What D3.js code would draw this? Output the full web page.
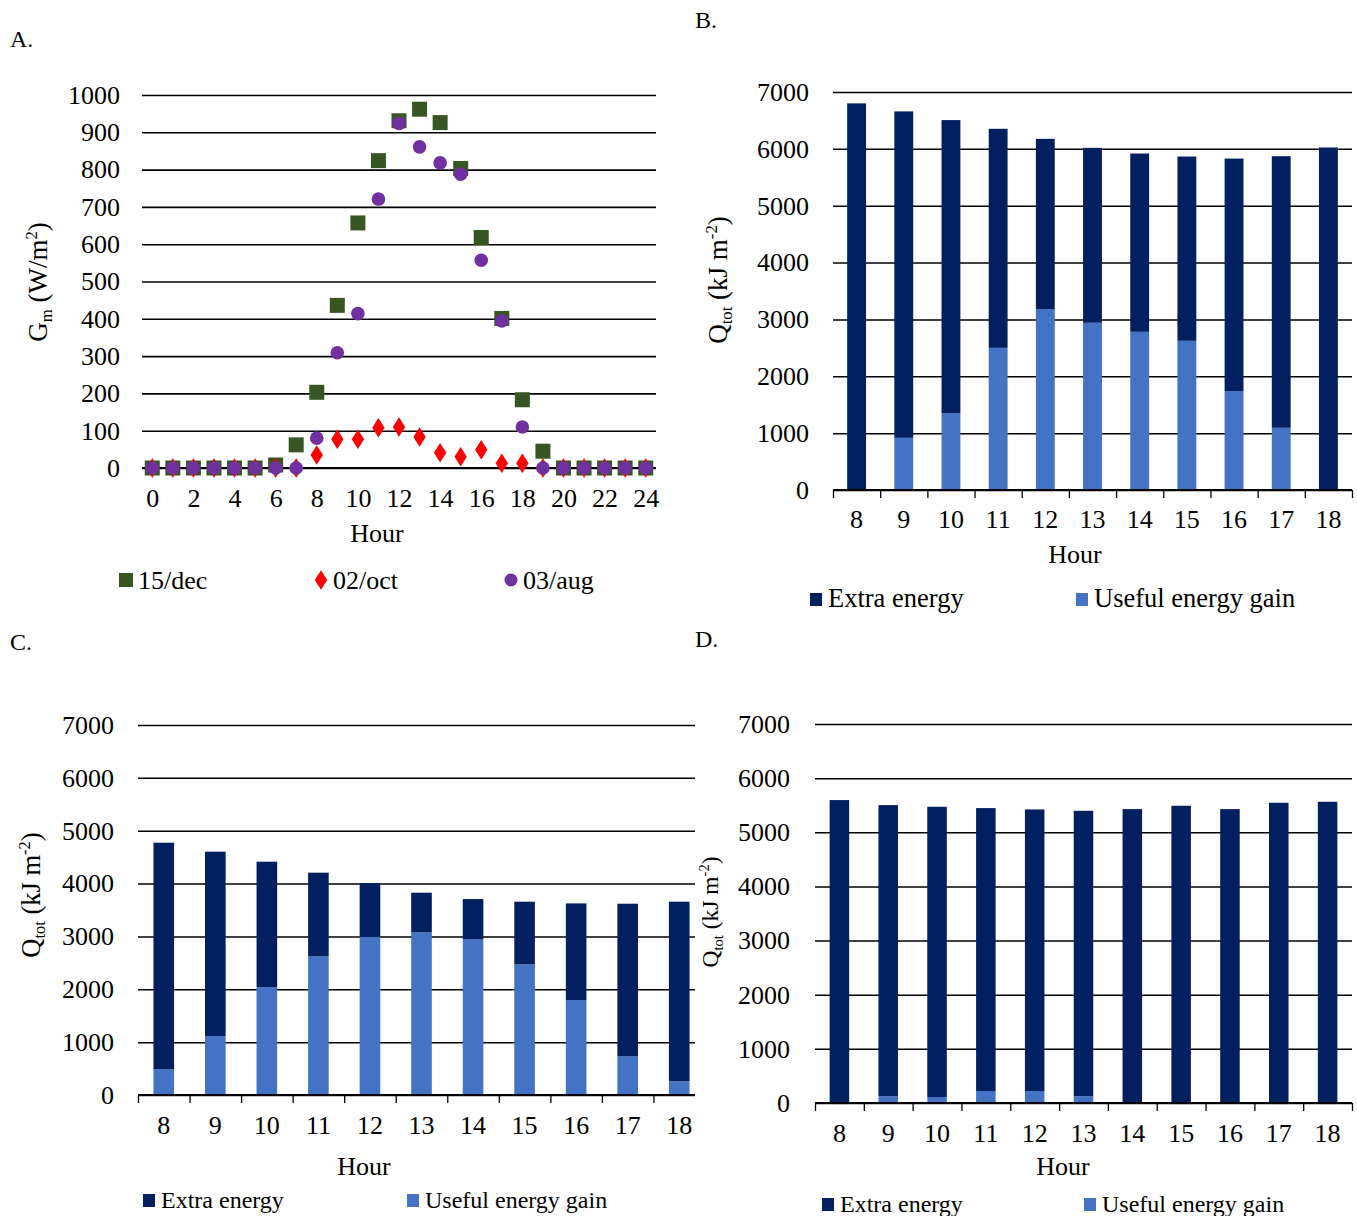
<!DOCTYPE html>
<html>
<head>
<meta charset="utf-8">
<script src="https://cdn.jsdelivr.net/npm/d3@7"></script>
<style>
  body { margin: 0; background: #fff; }
  svg { font-family: "Liberation Serif", "Times New Roman", serif; }
</style>
</head>
<body>
<svg id="chart" width="1357" height="1216"></svg>
<script>
// ---- data: panel A (irradiance) ----
const hoursA = d3.range(0, 25);
const dec15 = [0, 0, 0, 0, 0, 0, 8, 62, 203, 436, 657, 824, 931, 962, 926, 803, 618, 401, 183, 45, 0, 0, 0, 0, 0];
const oct02 = [0, 0, 0, 0, 0, 0, 0, 0, 35, 77, 77, 108, 110, 83, 41, 30, 49, 13, 13, 0, 0, 0, 0, 0, 0];
const aug03 = [0, 0, 0, 0, 0, 0, 0, 0, 80, 309, 414, 721, 924, 861, 818, 788, 557, 394, 110, 0, 0, 0, 0, 0, 0];

// ---- data: panels B, C, D (energy) ----
const hoursQ = [8, 9, 10, 11, 12, 13, 14, 15, 16, 17, 18];
const usefulB = [0, 918, 1353, 2500, 3182, 2941, 2782, 2624, 1741, 1094, -20];
const extraB  = [6800, 5741, 5153, 3853, 2994, 3077, 3136, 3241, 4088, 4777, 6024];
const usefulC = [486, 1116, 2037, 2623, 2989, 3077, 2945, 2472, 1797, 731, 259];
const extraC  = [4287, 3487, 2377, 1583, 1021, 750, 762, 1185, 1828, 2888, 3398];
const usefulD = [-20, 123, 111, 222, 222, 123, 0, -20, 0, -20, -20];
const extraD  = [5595, 5379, 5360, 5225, 5200, 5274, 5428, 5490, 5428, 5545, 5564];

const yTicksQ = d3.range(0, 7001, 1000);
const yTicksA = d3.range(0, 1001, 100);
const seriesNames = ["Extra energy", "Useful energy gain"];

const COL_EXTRA = "#022060";
const COL_USEFUL = "#4472C4";
const FS = 26;

const svg = d3.select("#chart");

// panel letters
[["A.", 10, 47], ["B.", 695, 28], ["C.", 10, 650], ["D.", 695, 647]].forEach(([t, x, y]) => {
  svg.append("text").attr("x", x).attr("y", y).attr("font-size", 24).text(t);
});

// rotated axis title with sub/superscript
function yTitle(cx, cy, size, main, sub, rest, sup, tail) {
  const t = svg.append("text")
    .attr("transform", `translate(${cx},${cy}) rotate(-90)`)
    .attr("text-anchor", "middle")
    .attr("font-size", size);
  t.append("tspan").text(main);
  t.append("tspan").attr("font-size", size * 0.62).attr("dy", size * 0.2).text(sub);
  t.append("tspan").attr("dy", -size * 0.2).text(rest);
  t.append("tspan").attr("font-size", size * 0.62).attr("dy", -size * 0.38).text(sup);
  t.append("tspan").attr("dy", size * 0.38).text(tail);
}

// ================= Panel A =================
(function () {
  const left = 142, right = 656, top = 95, bottom = 468;
  const x = d3.scaleLinear().domain([-0.5, 24.5]).range([left, right]);
  const y = d3.scaleLinear().domain([0, 1000]).range([bottom, top]);

  const gy = svg.append("g").attr("transform", `translate(${left},0)`)
    .call(d3.axisLeft(y).tickValues(yTicksA).tickFormat(d3.format("d")).tickSize(-(right - left)).tickPadding(22));
  gy.select(".domain").remove();
  gy.selectAll("line").attr("stroke", "#000").attr("stroke-width", 1.6);
  gy.selectAll("text").attr("font-size", FS).attr("fill", "#000").attr("font-family", "Liberation Serif");
  svg.append("line").attr("x1", left).attr("x2", right).attr("y1", y(0)).attr("y2", y(0))
    .attr("stroke", "#000").attr("stroke-width", 2.2);

  const gx = svg.append("g").attr("transform", `translate(0,${bottom})`)
    .call(d3.axisBottom(x).tickValues(d3.range(0, 25, 2)).tickSize(0).tickPadding(21));
  gx.select(".domain").remove();
  gx.selectAll("text").attr("font-size", FS).attr("fill", "#000").attr("font-family", "Liberation Serif");

  svg.append("text").attr("x", 377).attr("y", 542).attr("text-anchor", "middle")
    .attr("font-size", FS).text("Hour");

  svg.append("g").selectAll("rect").data(dec15).join("rect")
    .attr("x", (d, i) => x(hoursA[i]) - 7.5).attr("y", d => y(d) - 7.5)
    .attr("width", 15).attr("height", 15).attr("fill", "#375623");
  const diamond = d3.symbol().type(d3.symbolDiamond).size(110);
  svg.append("g").selectAll("path").data(oct02).join("path")
    .attr("d", diamond)
    .attr("transform", (d, i) => `translate(${x(hoursA[i])},${y(d)}) scale(1.1,1)`)
    .attr("fill", "#FF0000");
  svg.append("g").selectAll("circle").data(aug03).join("circle")
    .attr("cx", (d, i) => x(hoursA[i])).attr("cy", d => y(d)).attr("r", 6.8)
    .attr("fill", "#7030A0");

  // legend
  const ly = 580;
  svg.append("rect").attr("x", 119).attr("y", ly - 7).attr("width", 14).attr("height", 14).attr("fill", "#375623");
  svg.append("text").attr("x", 138).attr("y", ly + 9).attr("font-size", FS).text("15/dec");
  svg.append("path").attr("d", diamond).attr("transform", `translate(321,${ly}) scale(1.1,1)`).attr("fill", "#FF0000");
  svg.append("text").attr("x", 333).attr("y", ly + 9).attr("font-size", FS).text("02/oct");
  svg.append("circle").attr("cx", 511).attr("cy", ly).attr("r", 6.5).attr("fill", "#7030A0");
  svg.append("text").attr("x", 523).attr("y", ly + 9).attr("font-size", FS).text("03/aug");

  yTitle(47, 282, 27, "G", "m", " (W/m", "2", ")");
})();

// ================= Bar panels =================
function barPanel(cfg, useful, extra) {
  const { left, right, gridRight, top, bottom, labelPad, hourX, hourY, legY, leg1, leg2, legFS } = cfg;
  const x = d3.scaleBand().domain(hoursQ).range([left, right]).paddingInner(0.6).paddingOuter(0.3);
  const y = d3.scaleLinear().domain([0, 7000]).range([bottom, top]);

  const gy = svg.append("g").attr("transform", `translate(${left},0)`)
    .call(d3.axisLeft(y).tickValues(yTicksQ).tickFormat(d3.format("d")).tickSize(-(gridRight - left)).tickPadding(labelPad));
  gy.select(".domain").remove();
  gy.selectAll("line").attr("stroke", "#000").attr("stroke-width", 1.5);
  gy.selectAll("text").attr("font-size", FS).attr("fill", "#000").attr("font-family", "Liberation Serif");

  // bars: useful at the bottom, extra stacked on top
  svg.append("g").selectAll("rect").data(useful).join("rect")
    .attr("x", (d, i) => x(hoursQ[i])).attr("width", x.bandwidth())
    .attr("y", d => y(Math.max(d, 0))).attr("height", d => Math.abs(y(d) - y(0)))
    .attr("fill", COL_USEFUL);
  svg.append("g").selectAll("rect").data(extra).join("rect")
    .attr("x", (d, i) => x(hoursQ[i])).attr("width", x.bandwidth())
    .attr("y", (d, i) => y(Math.max(useful[i], 0) + d))
    .attr("height", d => y(0) - y(d))
    .attr("fill", COL_EXTRA);

  // category boundary ticks
  const b = d3.scaleLinear().domain([0, hoursQ.length]).range([left, right]);
  const ticks = d3.range(0, hoursQ.length + 1).filter(k => b(k) <= gridRight + 0.5);
  const gt = svg.append("g").attr("transform", `translate(0,${bottom})`)
    .call(d3.axisBottom(b).tickValues(ticks).tickFormat("").tickSize(8));
  gt.select(".domain").remove();
  gt.selectAll("line").attr("stroke", "#000").attr("stroke-width", 1.3);
  svg.append("line").attr("x1", left).attr("x2", gridRight).attr("y1", bottom).attr("y2", bottom)
    .attr("stroke", "#000").attr("stroke-width", 2.2);

  const gx = svg.append("g").attr("transform", `translate(0,${bottom})`)
    .call(d3.axisBottom(x).tickSize(0).tickPadding(cfg.xPad));
  gx.select(".domain").remove();
  gx.selectAll("text").attr("font-size", FS).attr("fill", "#000").attr("font-family", "Liberation Serif");

  svg.append("text").attr("x", hourX).attr("y", hourY).attr("text-anchor", "middle")
    .attr("font-size", FS).text("Hour");

  [[leg1, COL_EXTRA, seriesNames[0]], [leg2, COL_USEFUL, seriesNames[1]]].forEach(([lx, c, t]) => {
    svg.append("rect").attr("x", lx).attr("y", legY - 14).attr("width", 12).attr("height", 13).attr("fill", c);
    svg.append("text").attr("x", lx + 18).attr("y", legY).attr("font-size", legFS).text(t);
  });
}

barPanel({ left: 833, right: 1352, gridRight: 1352, top: 92, bottom: 490, labelPad: 24, xPad: 20,
  hourX: 1075, hourY: 563, legY: 607, leg1: 810, leg2: 1076, legFS: 26.5 }, usefulB, extraB);
yTitle(727, 280, 27, "Q", "tot", " (kJ m", "-2", ")");

barPanel({ left: 138, right: 705, gridRight: 695, top: 725, bottom: 1095, labelPad: 24, xPad: 21,
  hourX: 364, hourY: 1175, legY: 1208, leg1: 143, leg2: 407, legFS: 24 }, usefulC, extraC);
yTitle(40, 895, 26.5, "Q", "tot", " (kJ m", "-2", ")");

barPanel({ left: 815, right: 1352, gridRight: 1352, top: 724, bottom: 1103, labelPad: 25, xPad: 21,
  hourX: 1063, hourY: 1175, legY: 1212, leg1: 822, leg2: 1084, legFS: 24 }, usefulD, extraD);
yTitle(718, 912, 23.5, "Q", "tot", " (kJ m", "-2", ")");
</script>
</body>
</html>
